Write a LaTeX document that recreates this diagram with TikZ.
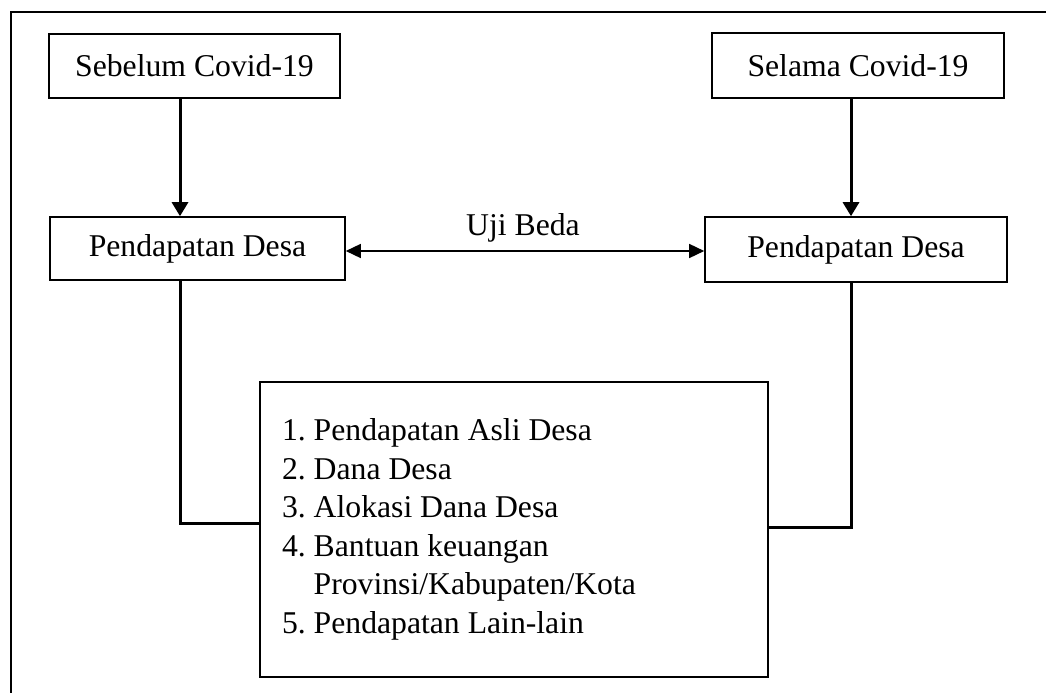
\documentclass[tikz,border=0pt]{standalone}
\usepackage{fontspec}
\setmainfont{Liberation Serif}
\usetikzlibrary{arrows.meta}
\begin{document}
\frenchspacing
\begin{tikzpicture}[x=1pt,y=-1pt,
  box/.style={draw, line width=1.6pt, inner sep=0pt, font=\fontsize{31.7pt}{38.5pt}\selectfont},
  frameline/.style={line width=1.8pt},
  vconn/.style={line width=3pt, -{Triangle[width=16pt,length=14pt]}},
  elbow/.style={line width=3pt},
  biarrow/.style={line width=1.5pt, {Triangle[width=14pt,length=15pt]}-{Triangle[width=14pt,length=15pt]}},
  lbl/.style={font=\fontsize{31.7pt}{38.5pt}\selectfont, inner sep=0pt}]
\useasboundingbox (0,0) rectangle (1046,693);
\draw[frameline] (1046,12) -- (11,12) -- (11,693);

\node[box, minimum width=291pt, minimum height=64pt] (sebelum) at (194.5,66) {Sebelum Covid-19};
\node[box, minimum width=292pt, minimum height=65pt] (selama) at (858,65.5) {Selama Covid-19};
\node[box, minimum width=295pt, minimum height=63pt] (pdL) at (197.5,248.5) {Pendapatan Desa};
\node[box, minimum width=302pt, minimum height=65pt] (pdR) at (856,249.5) {Pendapatan Desa};
\node[box, minimum width=508pt, minimum height=295pt] (list) at (514,529.5)
  {\parbox{464pt}{\raggedright\frenchspacing
   1. Pendapatan Asli Desa\\
   2. Dana Desa\\
   3. Alokasi Dana Desa\\
   4. Bantuan keuangan\\
   \hspace*{31.7pt}Provinsi/Kabupaten/Kota\\
   5. Pendapatan Lain-lain}};

\coordinate (xL) at (180,0);
\coordinate (xR) at (851,0);
\coordinate (yL) at (0,523);
\coordinate (yR) at (0,527);
\coordinate (yB) at (0,251);

\draw[vconn] (sebelum.south -| xL) -- (pdL.north -| xL);
\draw[vconn] (selama.south -| xR) -- (pdR.north -| xR);
\draw[biarrow] (pdL.east |- yB) -- (pdR.west |- yB);
\node[lbl] (uji) at (523,228) {Uji Beda};
\draw[elbow] (pdL.south -| xL) |- (list.west |- yL);
\draw[elbow] (pdR.south -| xR) |- (list.east |- yR);
\end{tikzpicture}
\end{document}
